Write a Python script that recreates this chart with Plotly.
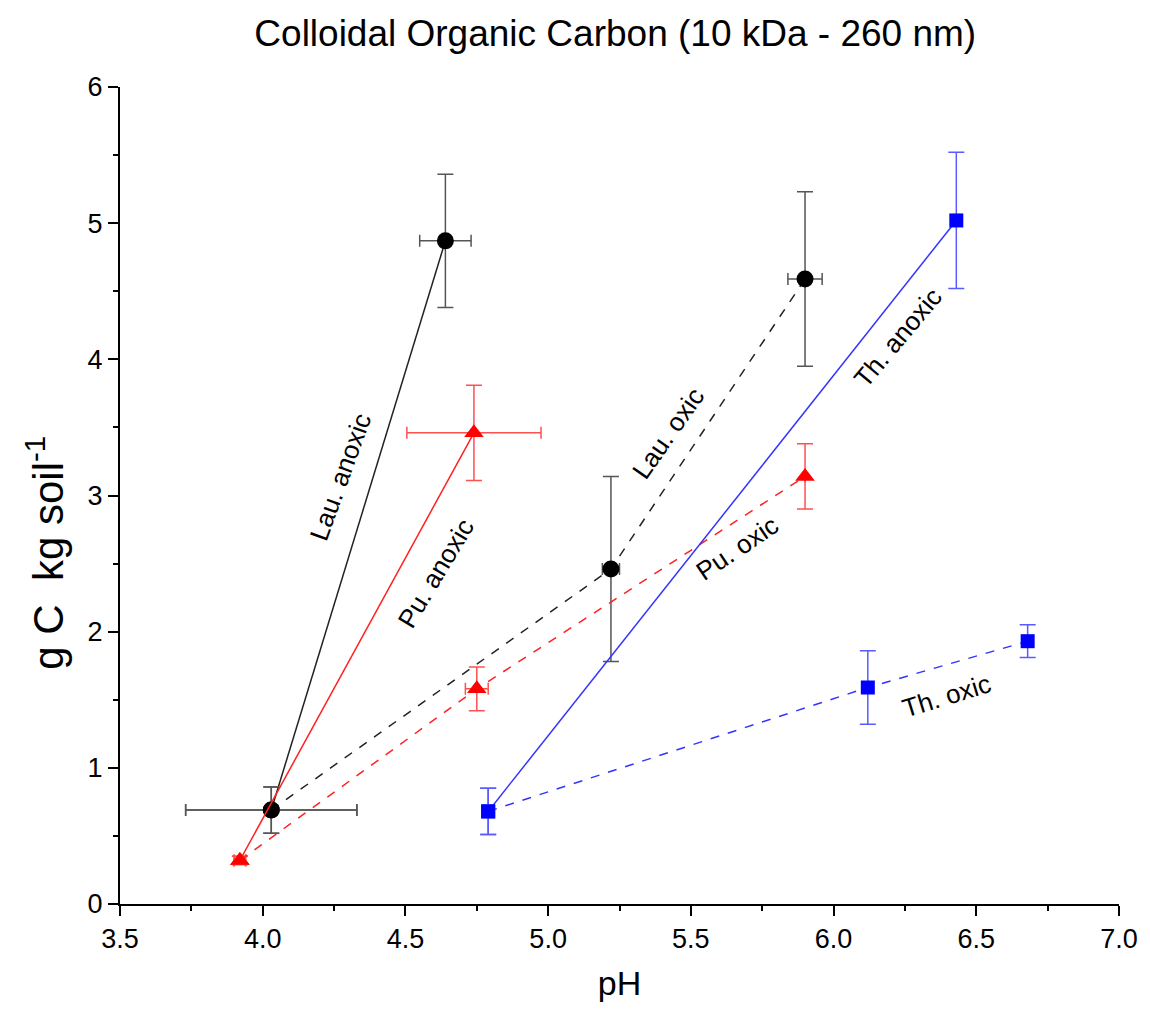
import plotly.graph_objects as go

# ---- data ----
lau_anoxic_x = [4.03, 4.64]
lau_anoxic_y = [0.69, 4.87]
lau_anoxic_xerr = [0.30, 0.09]
lau_anoxic_yerr = [0.17, 0.49]

lau_oxic_x = [4.03, 5.22, 5.90]
lau_oxic_y = [0.69, 2.46, 4.59]
lau_oxic_xerr = [0.30, 0.03, 0.06]
lau_oxic_yerr = [0.17, 0.68, 0.64]

pu_anoxic_x = [3.92, 4.74]
pu_anoxic_y = [0.32, 3.46]
pu_anoxic_xerr = [0.02, 0.235]
pu_anoxic_yerr = [0.03, 0.35]

pu_oxic_x = [3.92, 4.75, 5.90]
pu_oxic_y = [0.32, 1.58, 3.14]
pu_oxic_xerr = [0.02, 0.04, 0.0]
pu_oxic_yerr = [0.03, 0.16, 0.24]

th_anoxic_x = [4.79, 6.43]
th_anoxic_y = [0.68, 5.02]
th_anoxic_xerr = [0.0, 0.0]
th_anoxic_yerr = [0.17, 0.50]

th_oxic_x = [4.79, 6.12, 6.68]
th_oxic_y = [0.68, 1.59, 1.93]
th_oxic_xerr = [0.0, 0.0, 0.0]
th_oxic_yerr = [0.17, 0.27, 0.12]

labels = ["Lau. anoxic", "Pu. anoxic", "Lau. oxic", "Pu. oxic", "Th. anoxic", "Th. oxic"]
label_x = [4.272, 4.607, 5.421, 5.664, 6.224, 6.395]
label_y = [3.136, 2.431, 3.459, 2.614, 4.157, 1.530]
label_angle = [-70, -59, -55, -34, -50, -17]

FONT = "Liberation Sans, Arial, sans-serif"

fig = go.Figure()

def add(x, y, xe, ye, line_color, marker_color, err_color, dash, symbol, msize):
    fig.add_trace(go.Scatter(
        x=x, y=y, mode="lines+markers",
        line=dict(color=line_color, width=1.5, dash=dash),
        marker=dict(symbol=symbol, size=msize, color=marker_color, line=dict(width=0)),
        error_x=dict(type="data", array=xe, visible=True, color=err_color, thickness=1.5, width=6),
        error_y=dict(type="data", array=ye, visible=True, color=err_color, thickness=1.5, width=8),
        showlegend=False,
    ))

add(lau_anoxic_x, lau_anoxic_y, lau_anoxic_xerr, lau_anoxic_yerr, "#222222", "#000000", "#555555", "solid", "circle", 17)
add(lau_oxic_x, lau_oxic_y, lau_oxic_xerr, lau_oxic_yerr, "#222222", "#000000", "#555555", "dash", "circle", 17)
add(pu_anoxic_x, pu_anoxic_y, pu_anoxic_xerr, pu_anoxic_yerr, "#ff2020", "#ff0000", "#ff5050", "solid", "triangle-up", 17)
add(pu_oxic_x, pu_oxic_y, pu_oxic_xerr, pu_oxic_yerr, "#ff2020", "#ff0000", "#ff5050", "dash", "triangle-up", 17)
add(th_anoxic_x, th_anoxic_y, th_anoxic_xerr, th_anoxic_yerr, "#3333ff", "#0000ff", "#5a5aff", "solid", "square", 14)
add(th_oxic_x, th_oxic_y, th_oxic_xerr, th_oxic_yerr, "#3333ff", "#0000ff", "#5a5aff", "dash", "square", 14)

for t, lx, ly, a in zip(labels, label_x, label_y, label_angle):
    fig.add_annotation(x=lx, y=ly, text=t, textangle=a, showarrow=False,
                       font=dict(family=FONT, size=26, color="black"))

# y-axis title (as annotation to place it like the reference)
fig.add_annotation(xref="paper", yref="paper", x=-0.075, y=0.43, text="g C  kg soil<sup>-1</sup>",
                   textangle=-90, showarrow=False, xanchor="center", yanchor="middle",
                   font=dict(family=FONT, size=42, color="black"))

fig.update_layout(
    width=1150, height=1023,
    margin=dict(l=120, r=24, t=87, b=119),
    paper_bgcolor="white", plot_bgcolor="white",
    font=dict(family=FONT, color="black"),
    title=dict(text="Colloidal Organic Carbon (10 kDa - 260 nm)", x=0.535, xanchor="center",
               y=0.968, yanchor="middle", font=dict(family=FONT, size=37, color="black")),
    xaxis=dict(range=[3.5, 7.0], dtick=0.5, tick0=3.5, tickformat=".1f",
               showline=True, linecolor="black", linewidth=2, mirror=False,
               ticks="outside", ticklen=10, tickwidth=2, tickcolor="black",
               minor=dict(dtick=0.25, ticks="outside", ticklen=5, tickwidth=2, tickcolor="black"),
               showgrid=False, zeroline=False,
               tickfont=dict(family=FONT, size=27),
               title=dict(text="pH", font=dict(family=FONT, size=34), standoff=18)),
    yaxis=dict(range=[0, 6], dtick=1, tick0=0,
               showline=True, linecolor="black", linewidth=2, mirror=False,
               ticks="outside", ticklen=10, tickwidth=2, tickcolor="black",
               minor=dict(dtick=0.5, ticks="outside", ticklen=5, tickwidth=2, tickcolor="black"),
               showgrid=False, zeroline=False,
               tickfont=dict(family=FONT, size=27)),
)

fig.write_html("out.html")
